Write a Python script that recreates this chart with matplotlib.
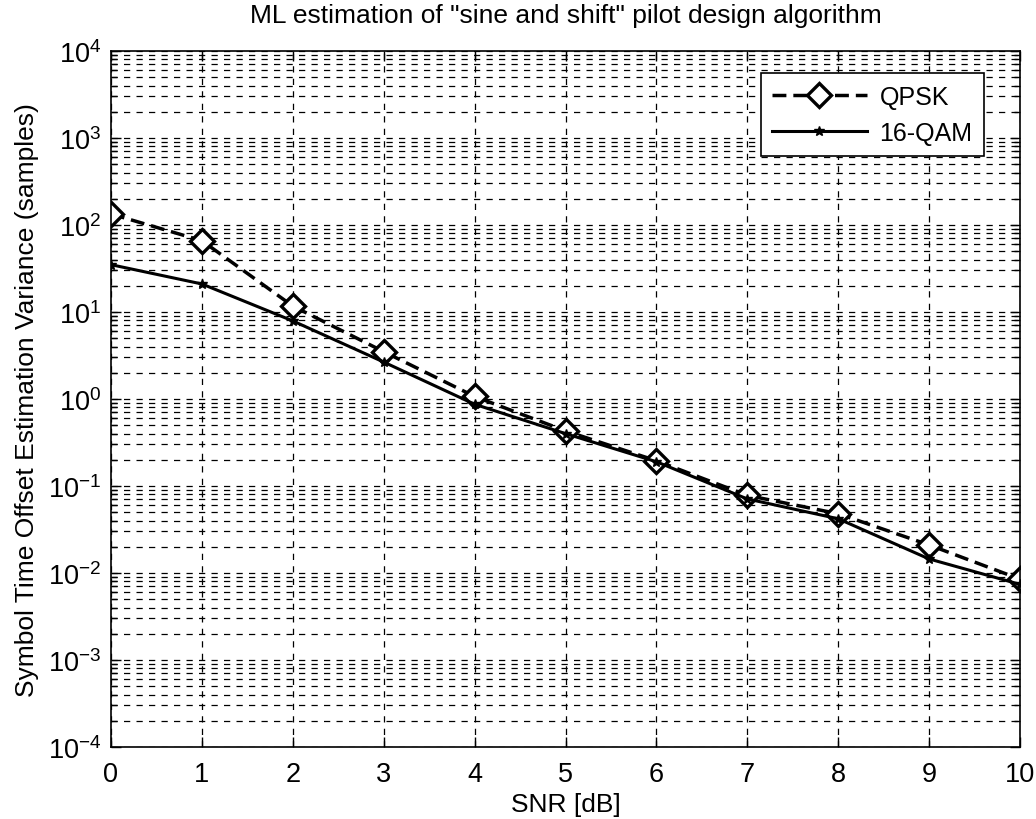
import matplotlib
matplotlib.use('Agg')
import matplotlib.pyplot as plt
from matplotlib.ticker import LogLocator, NullFormatter

plt.rcParams['font.family'] = ['Liberation Sans', 'DejaVu Sans']
plt.rcParams['mathtext.fontset'] = 'custom'
plt.rcParams['mathtext.rm'] = 'Liberation Sans'
plt.rcParams['mathtext.it'] = 'Liberation Sans'
plt.rcParams['axes.unicode_minus'] = False

# Data
snr_db = [0, 1, 2, 3, 4, 5, 6, 7, 8, 9, 10]
qpsk = [134, 66, 11.7, 3.5, 1.07, 0.43, 0.195, 0.078, 0.048, 0.021, 0.0085]
qam16 = [35, 21, 7.9, 2.66, 0.87, 0.40, 0.19, 0.071, 0.042, 0.0145, 0.0074]
x_ticks = list(range(0, 11))

fig = plt.figure(figsize=(10.36, 8.2), dpi=100)
ax = fig.add_axes([0.1071, 0.0878, 0.8775, 0.8488])

ax.semilogy(snr_db, qpsk, color='black', linestyle='--', linewidth=2.5,
            marker='D', markersize=12.5, markerfacecolor='white',
            markeredgewidth=2.4, label='QPSK', dashes=(4, 2))
ax.semilogy(snr_db, qam16, color='black', linestyle='-', linewidth=2.2,
            marker='*', markersize=7, label='16-QAM')

ax.set_xlim(0, 10)
ax.set_ylim(1e-4, 1e4)
ax.set_xticks(x_ticks)
ax.yaxis.set_major_locator(LogLocator(base=10, numticks=20))
ax.yaxis.set_minor_locator(LogLocator(base=10, subs=range(2, 10), numticks=20))
ax.yaxis.set_minor_formatter(NullFormatter())
ax.yaxis.offsetText.set_visible(False)
ax.xaxis.offsetText.set_visible(False)

ax.grid(True, which='major', color='black', linestyle=(0, (5, 5)), linewidth=0.9)
ax.grid(True, which='minor', axis='y', color='black', linestyle=(0, (5, 5)), linewidth=0.9)

ax.tick_params(axis='both', which='both', direction='in', top=True, right=True,
               labelsize=19.5, width=1)
ax.tick_params(which='major', length=7)
ax.tick_params(which='minor', length=4)
ax.tick_params(axis='x', pad=10)
ax.tick_params(axis='y', pad=7)
for s in ax.spines.values():
    s.set_linewidth(1.2)

ax.set_xlabel('SNR [dB]', fontsize=19, labelpad=4)
ax.set_ylabel('Symbol Time Offset Estimation Variance (samples)', fontsize=19, labelpad=6)
ax.set_title('ML estimation of "sine and shift" pilot design algorithm', fontsize=19, pad=21)

leg = ax.legend(loc='upper right', bbox_to_anchor=(0.960, 0.968), fontsize=18,
                fancybox=False, framealpha=1, edgecolor='black', handlelength=3.8,
                borderpad=0.45, labelspacing=0.5, handletextpad=0.5, borderaxespad=0)
leg.get_frame().set_linewidth(1.2)

fig.savefig('out.png', dpi=100)
